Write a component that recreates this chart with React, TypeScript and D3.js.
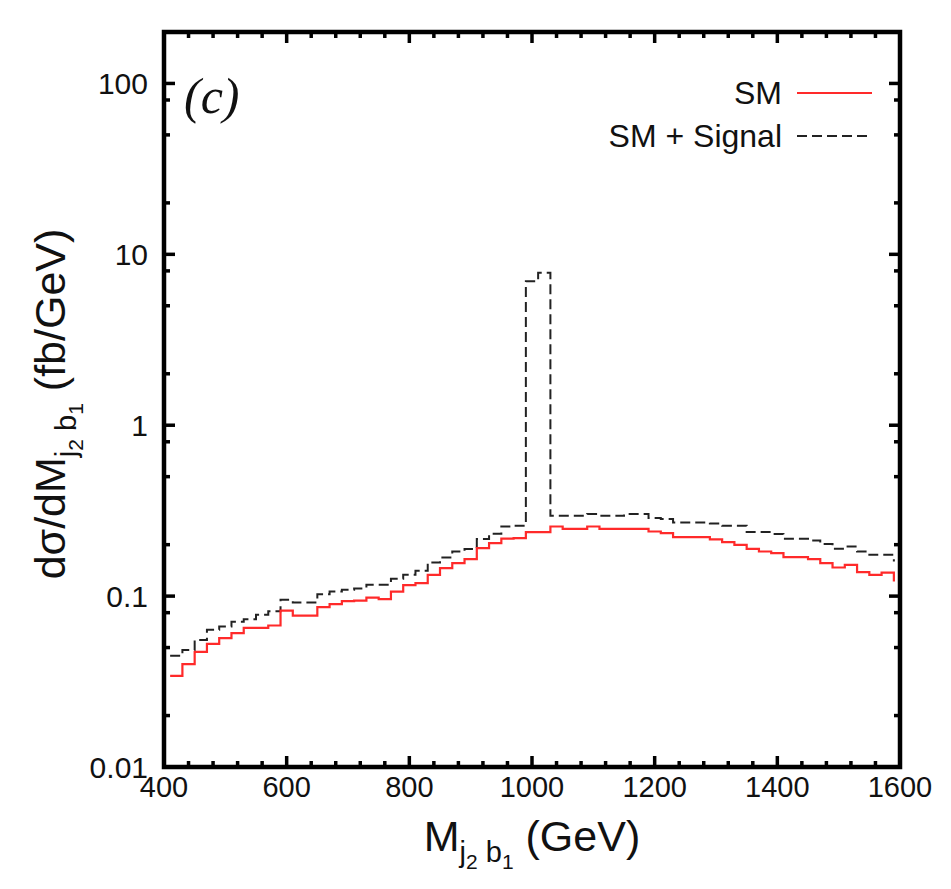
import React, { useEffect, useRef } from 'react';
import * as d3 from 'd3';

// bin lower edges (GeV), drawn as steps from each edge to the next
const massBins = [
  410, 430, 450, 470, 490, 510, 530, 550, 570, 590,
  610, 630, 650, 670, 690, 710, 730, 750, 770, 790,
  810, 830, 850, 870, 890, 910, 930, 950, 970, 990,
  1010, 1030, 1050, 1070, 1090, 1110, 1130, 1150, 1170, 1190,
  1210, 1230, 1250, 1270, 1290, 1310, 1330, 1350, 1370, 1390,
  1410, 1430, 1450, 1470, 1490, 1510, 1530, 1550, 1570, 1590,
];

const smValues = [
  0.0341, 0.0400, 0.0472, 0.0525, 0.0567, 0.0607, 0.0652, 0.0652, 0.0673, 0.0823,
  0.0769, 0.0769, 0.0861, 0.0897, 0.0935, 0.0942, 0.0981, 0.0960, 0.1063, 0.1159,
  0.1191, 0.1332, 0.1458, 0.1560, 0.1646, 0.1910, 0.2040, 0.2170, 0.2185, 0.2370,
  0.2370, 0.2555, 0.2477, 0.2477, 0.2555, 0.2477, 0.2477, 0.2477, 0.2477, 0.2388,
  0.2337, 0.2214, 0.2214, 0.2214, 0.2150, 0.2070, 0.1996, 0.1891, 0.1824, 0.1784,
  0.1690, 0.1690, 0.1646, 0.1560, 0.1470, 0.1524, 0.1380, 0.1332, 0.1374, 0.1217,
];

const signalValues = [
  0.0447, 0.0484, 0.0554, 0.0635, 0.0663, 0.0709, 0.0733, 0.0777, 0.0816, 0.0951,
  0.0917, 0.0917, 0.1026, 0.1064, 0.1090, 0.1108, 0.1164, 0.1164, 0.1262, 0.1332,
  0.1406, 0.1573, 0.1682, 0.1824, 0.1884, 0.2156, 0.2315, 0.2555, 0.2580, 6.95,
  7.79, 0.2951, 0.2951, 0.2951, 0.3020, 0.2951, 0.2951, 0.3020, 0.3020, 0.2861,
  0.2823, 0.2697, 0.2697, 0.2697, 0.2660, 0.2578, 0.2578, 0.2369, 0.2369, 0.2306,
  0.2164, 0.2164, 0.2115, 0.2016, 0.1891, 0.1951, 0.1824, 0.1744, 0.1744, 0.1594,
];

const xTickValues = [400, 600, 800, 1000, 1200, 1400, 1600];
const yTickValues = [0.01, 0.1, 1, 10, 100];
const yTickLabels = ['0.01', '0.1', '1', '10', '100'];
const yMinorFactors = [2, 5, 8];

const W = 951;
const H = 889;

const App = () => {
  const ref = useRef<SVGSVGElement>(null);

  useEffect(() => {
    const svg = d3.select(ref.current);
    svg.selectAll('*').remove();

    const left = 164, right = 900, top = 32, bottom = 767;
    const font = '"Liberation Sans", Arial, sans-serif';

    const x = d3.scaleLinear().domain([400, 1600]).range([left, right]);
    const y = d3.scaleLog().domain([0.01, 200]).range([bottom, top]);

    svg.append('clipPath').attr('id', 'plotclip')
      .append('rect')
      .attr('x', left).attr('y', top)
      .attr('width', right - left).attr('height', bottom - top);

    // curves
    const line = d3.line<number>()
      .x((_, i) => x(massBins[i]))
      .y(d => y(d))
      .curve(d3.curveStepAfter);

    const g = svg.append('g').attr('clip-path', 'url(#plotclip)');
    g.append('path')
      .attr('d', line(signalValues))
      .attr('fill', 'none')
      .attr('stroke', '#222')
      .attr('stroke-width', 2)
      .attr('stroke-dasharray', '10,5');
    g.append('path')
      .attr('d', line(smValues))
      .attr('fill', 'none')
      .attr('stroke', '#ff2a2a')
      .attr('stroke-width', 2.2);

    // ticks (inward, on all four sides)
    const ticks = svg.append('g').attr('stroke', '#000').attr('stroke-width', 3.5);
    const xMinor = d3.range(400, 1601, 40);
    xMinor.forEach(v => {
      const len = xTickValues.includes(v) ? 11 : 6;
      ticks.append('line').attr('x1', x(v)).attr('x2', x(v)).attr('y1', bottom).attr('y2', bottom - len);
      ticks.append('line').attr('x1', x(v)).attr('x2', x(v)).attr('y1', top).attr('y2', top + len);
    });
    yTickValues.forEach(v => {
      ticks.append('line').attr('x1', left).attr('x2', left + 11).attr('y1', y(v)).attr('y2', y(v));
      ticks.append('line').attr('x1', right).attr('x2', right - 11).attr('y1', y(v)).attr('y2', y(v));
      yMinorFactors.forEach(f => {
        const m = v * f;
        if (m > 200) return;
        ticks.append('line').attr('x1', left).attr('x2', left + 6).attr('y1', y(m)).attr('y2', y(m));
        ticks.append('line').attr('x1', right).attr('x2', right - 6).attr('y1', y(m)).attr('y2', y(m));
      });
    });

    // frame
    svg.append('rect')
      .attr('x', left).attr('y', top)
      .attr('width', right - left).attr('height', bottom - top)
      .attr('fill', 'none')
      .attr('stroke', '#000')
      .attr('stroke-width', 4.5);

    // tick labels
    svg.append('g').selectAll('text')
      .data(xTickValues)
      .enter().append('text')
      .attr('x', d => x(d))
      .attr('y', 797)
      .attr('text-anchor', 'middle')
      .attr('font-family', font)
      .attr('font-size', 29)
      .attr('fill', '#111')
      .text(d => String(d));

    svg.append('g').selectAll('text')
      .data(yTickValues)
      .enter().append('text')
      .attr('x', 148)
      .attr('y', d => y(d) + 11)
      .attr('text-anchor', 'end')
      .attr('font-family', font)
      .attr('font-size', 30)
      .attr('fill', '#111')
      .text((_, i) => yTickLabels[i]);

    // x axis title
    const xt = svg.append('text')
      .attr('x', 532).attr('y', 851)
      .attr('text-anchor', 'middle')
      .attr('font-family', font)
      .attr('font-size', 43)
      .attr('fill', '#111');
    xt.append('tspan').text('M');
    xt.append('tspan').attr('dy', 11).attr('font-size', 29).text('j');
    xt.append('tspan').attr('dy', 7).attr('font-size', 21).text('2');
    xt.append('tspan').attr('dy', -7).attr('font-size', 29).text(' b');
    xt.append('tspan').attr('dy', 7).attr('font-size', 21).text('1');
    xt.append('tspan').attr('dy', -18).text(' (GeV)');

    // y axis title
    const yt = svg.append('text')
      .attr('transform', 'translate(65,404) rotate(-90)')
      .attr('text-anchor', 'middle')
      .attr('font-family', font)
      .attr('font-size', 43)
      .attr('fill', '#111');
    yt.append('tspan').text('dσ/dM');
    yt.append('tspan').attr('dy', 11).attr('font-size', 29).text('j');
    yt.append('tspan').attr('dy', 7).attr('font-size', 21).text('2');
    yt.append('tspan').attr('dy', -7).attr('font-size', 29).text(' b');
    yt.append('tspan').attr('dy', 7).attr('font-size', 21).text('1');
    yt.append('tspan').attr('dy', -18).text(' (fb/GeV)');

    // panel label
    svg.append('text')
      .attr('x', 184).attr('y', 113)
      .attr('font-family', '"Liberation Serif", "Times New Roman", serif')
      .attr('font-style', 'italic')
      .attr('font-size', 50)
      .attr('fill', '#111')
      .text('(c)');

    // legend
    const legend = [
      { label: 'SM', color: '#ff2a2a', dash: null, yy: 93 },
      { label: 'SM + Signal', color: '#222', dash: '10,5', yy: 136 },
    ];
    legend.forEach(l => {
      svg.append('text')
        .attr('x', 782).attr('y', l.yy + 11)
        .attr('text-anchor', 'end')
        .attr('font-family', font)
        .attr('font-size', 32)
        .attr('fill', '#111')
        .text(l.label);
      svg.append('line')
        .attr('x1', 797).attr('x2', 872)
        .attr('y1', l.yy).attr('y2', l.yy)
        .attr('stroke', l.color)
        .attr('stroke-width', 2)
        .attr('stroke-dasharray', l.dash);
    });
  }, []);

  return (
    <svg
      ref={ref}
      width={W}
      height={H}
      style={{ position: 'absolute', left: 0, top: 0, background: '#fff' }}
    />
  );
};

export default App;
